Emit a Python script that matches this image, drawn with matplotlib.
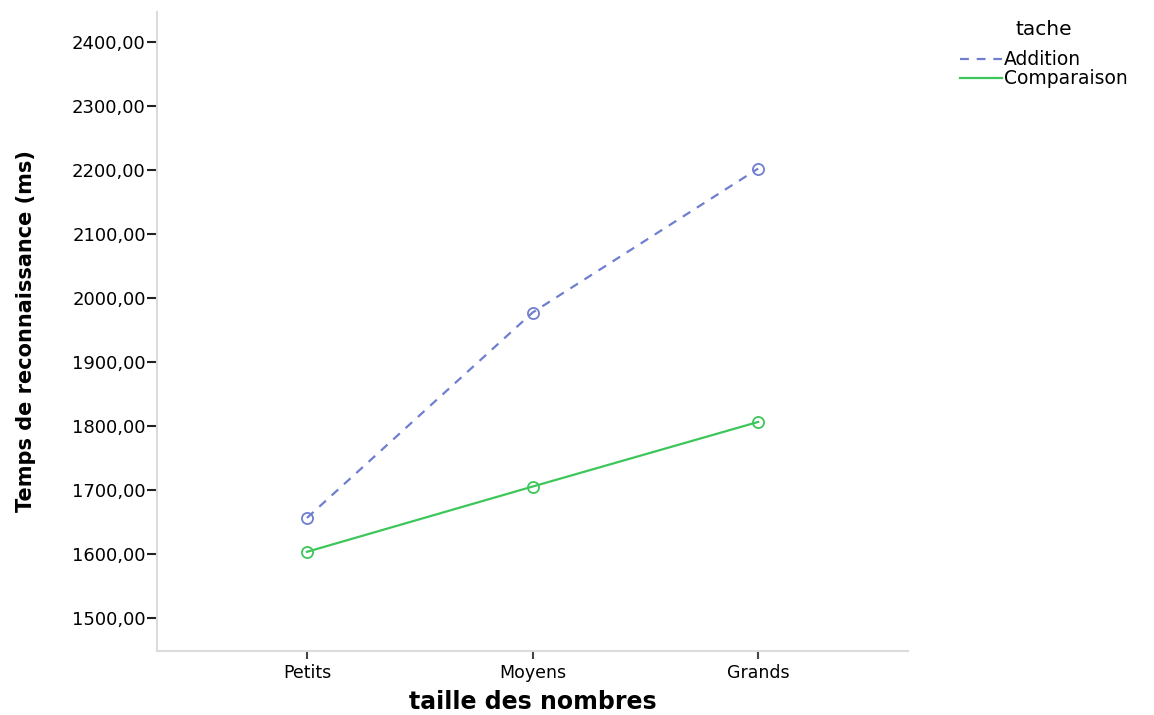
import matplotlib.pyplot as plt
from matplotlib.lines import Line2D

categories = ['Petits', 'Moyens', 'Grands']
addition = [1656, 1977, 2202]
comparaison = [1603, 1705, 1806]
yticks = [1500, 1600, 1700, 1800, 1900, 2000, 2100, 2200, 2300, 2400]

blue = '#6f7fd0'
green = '#3dc65a'

fig = plt.figure(figsize=(11.54, 7.15), dpi=100)
ax = fig.add_axes([0.136, 0.0895, 0.651, 0.894])

x = range(len(categories))
ax.plot(x, addition, color=blue, linestyle=(0, (4, 3.5)), linewidth=1.6,
        marker='o', markersize=8, markerfacecolor='none', markeredgewidth=1.3)
ax.plot(x, comparaison, color=green, linestyle='-', linewidth=1.6,
        marker='o', markersize=8, markerfacecolor='none', markeredgewidth=1.3)

ax.set_xlim(-0.665, 2.665)
ax.set_ylim(1448, 2447)
ax.set_xticks(list(x))
ax.set_xticklabels(categories, fontsize=12.5)
ax.set_yticks(yticks)
ax.set_yticklabels(['%d,00' % v for v in yticks], fontsize=13)

for side in ['top', 'right']:
    ax.spines[side].set_visible(False)
for side in ['left', 'bottom']:
    ax.spines[side].set_color('#dcdcdc')
    ax.spines[side].set_linewidth(1.5)
ax.tick_params(axis='y', length=7, width=1.5, color='#222222', pad=1)
ax.tick_params(axis='x', length=6, width=1.5, color='#444444', pad=3)

ax.set_xlabel('taille des nombres', fontsize=17, fontweight='bold', labelpad=6)
ax.set_ylabel('Temps de reconnaissance (ms)', fontsize=15, fontweight='bold',
              labelpad=26)

handles = [Line2D([], [], color=blue, linestyle=(0, (4, 3.5)), linewidth=1.6),
           Line2D([], [], color=green, linestyle='-', linewidth=1.6)]
leg = fig.legend(handles, ['Addition', 'Comparaison'], title='tache',
                 loc='upper left', bbox_to_anchor=(0.824, 0.985),
                 frameon=False, fontsize=13.5, title_fontsize=14.5,
                 handlelength=2.2, handletextpad=0.15, labelspacing=0.0,
                 borderpad=0)
leg._legend_box.sep = 8

fig.savefig('out.png', dpi=100)
